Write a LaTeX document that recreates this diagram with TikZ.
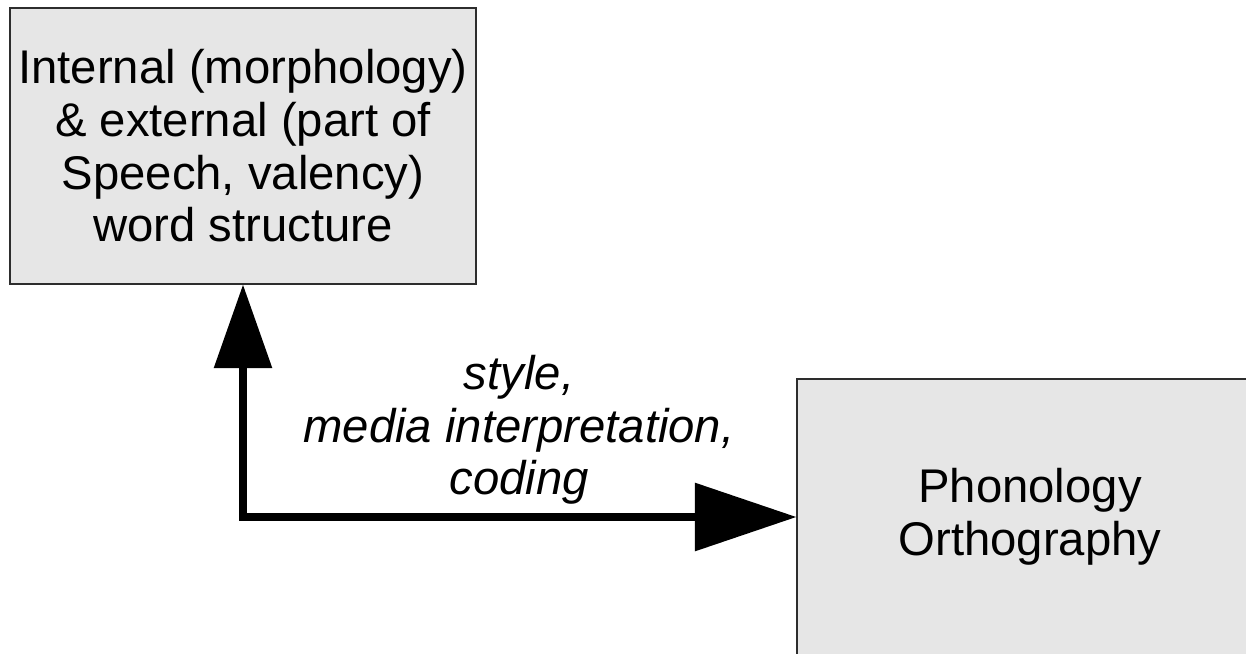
\documentclass[tikz,border=0pt]{standalone}
\usepackage{fontspec}
\setmainfont{Liberation Sans}
\usetikzlibrary{arrows.meta}
\definecolor{boxgray}{RGB}{230,230,230}
\definecolor{edgegray}{RGB}{45,45,45}

\begin{document}
\begin{tikzpicture}[x=0.02cm, y=-0.02cm,
    levelbox/.style={draw=edgegray, line width=0.7pt, fill=boxgray,
        minimum width=9.32cm, minimum height=5.52cm, inner sep=0pt,
        align=center, font=\fontsize{26.9pt}{30pt}\selectfont},
    relation/.style={line width=4pt,
        {Triangle[length=47.6pt,width=32.3pt]}-{Triangle[length=57.8pt,width=38pt]}}]
        % Page frame (the right box runs off the page)
        \useasboundingbox (0,0) rectangle (1246,653);
        \clip (0,0) rectangle (1246,653);

        % Draw the two levels
        \node[levelbox] (word) at (243,146) {Internal (morphology)\\ \& external (part of\\ Speech, valency)\\ word structure};
        \node[levelbox] (phon) at (1030,517) {Phonology\\ Orthography};

        % Relation between them
        \draw[relation] (word.south) |- (phon.west);
        \node[align=center, font=\fontsize{26.9pt}{30pt}\selectfont\itshape] (rel) at (519,430) {style,\\ media interpretation,\\ coding};
    \end{tikzpicture}
\end{document}
